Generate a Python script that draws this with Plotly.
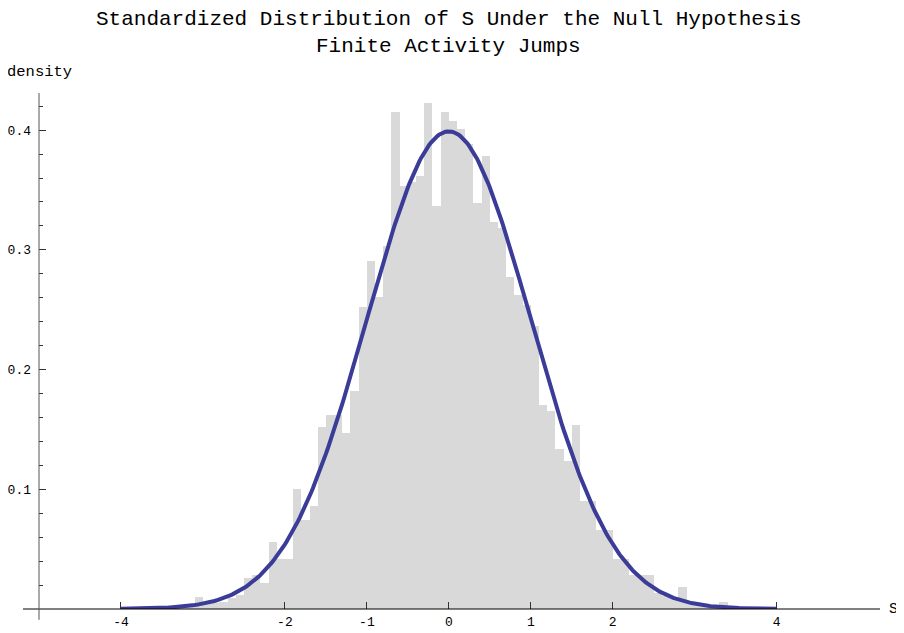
import numpy as np
import plotly.graph_objects as go

# histogram of standardized S, bins of width 0.1 starting at -3.5
bin_start = -3.5
bin_width = 0.1
density = [
    0.001, 0.001, 0.002, 0.002, 0.010, 0.004, 0.005, 0.006, 0.009, 0.012,
    0.026, 0.028, 0.022, 0.056, 0.042, 0.042, 0.100, 0.074, 0.086, 0.152,
    0.162, 0.162, 0.147, 0.182, 0.252, 0.291, 0.261, 0.303, 0.415, 0.353,
    0.357, 0.362, 0.423, 0.337, 0.415, 0.408, 0.401, 0.388, 0.339, 0.378,
    0.323, 0.318, 0.277, 0.262, 0.254, 0.236, 0.170, 0.165, 0.134, 0.124,
    0.154, 0.090, 0.090, 0.066, 0.066, 0.042, 0.042, 0.028, 0.028, 0.028,
    0.013, 0.011, 0.008, 0.018, 0.005, 0.004, 0.003, 0.002, 0.006, 0.001,
]
bin_centers = [bin_start + bin_width * (i + 0.5) for i in range(len(density))]

x_ticks = [-4, -2, -1, 0, 1, 2, 4]
y_ticks = [0.1, 0.2, 0.3, 0.4]

# standard normal density for reference
curve_x = np.linspace(-4, 4, 401)
curve_y = np.exp(-curve_x ** 2 / 2) / np.sqrt(2 * np.pi)

mono = "Liberation Mono, Courier New, monospace"

fig = go.Figure()
fig.add_trace(go.Bar(
    x=bin_centers, y=density, width=bin_width,
    marker=dict(color="#d9d9d9", line=dict(width=0)),
    showlegend=False, hoverinfo="skip"
))
fig.add_trace(go.Scatter(
    x=curve_x, y=curve_y, mode="lines",
    line=dict(color="#3b3b98", width=4),
    showlegend=False, hoverinfo="skip"
))

x_lo, x_hi = -5.0, 5.26
y_lo, y_hi = 0.0, 0.431

axis_common = dict(showgrid=False, zeroline=False, showline=False,
                   automargin=False,
                   ticks="inside", tickcolor="#333", tickwidth=1,
                   tickfont=dict(family=mono, size=13, color="black"))

# page body adds an 8px offset, so the figure is 8px smaller than the window
fig.update_layout(
    width=896, height=625,
    margin=dict(l=31, r=24, t=85, b=24, autoexpand=False),
    plot_bgcolor="white", paper_bgcolor="white",
    bargap=0,
    xaxis=dict(range=[x_lo, x_hi], tickvals=x_ticks, ticklen=7,
               ticktext=[str(v) for v in x_ticks],
               ticklabelstandoff=3, **axis_common),
    yaxis=dict(range=[y_lo, y_hi], tickvals=y_ticks, ticklen=7,
               ticktext=[f"{v:.1f}" for v in y_ticks],
               ticklabelstandoff=7,
               minor=dict(dtick=0.02, ticklen=4, ticks="inside", tickcolor="#333"),
               **axis_common),
)

# axis lines, slightly overshooting the plot area like the original
fig.add_shape(type="line", xref="paper", yref="paper",
              x0=-0.019, x1=1.0, y0=0, y1=0, line=dict(color="black", width=1))
fig.add_shape(type="line", xref="paper", yref="paper",
              x0=0, x1=0, y0=-0.021, y1=1.0, line=dict(color="#555", width=1))

fig.add_annotation(text="Standardized Distribution of S Under the Null Hypothesis",
                   xref="paper", yref="paper", x=0.487, y=1.1434,
                   showarrow=False, xanchor="center", yanchor="middle",
                   font=dict(family=mono, size=21, color="black"))
fig.add_annotation(text="Finite Activity Jumps",
                   xref="paper", yref="paper", x=0.487, y=1.091,
                   showarrow=False, xanchor="center", yanchor="middle",
                   font=dict(family=mono, size=21, color="black"))
fig.add_annotation(text="density", xref="paper", yref="paper", x=0.0, y=1.041,
                   showarrow=False, xanchor="center", yanchor="middle",
                   font=dict(family=mono, size=15.5, color="black"))
fig.add_annotation(text="S", xref="paper", yref="paper", x=1.008, y=0,
                   showarrow=False, xanchor="left", yanchor="middle",
                   font=dict(family=mono, size=15, color="black"))

fig.write_html("out.html")
